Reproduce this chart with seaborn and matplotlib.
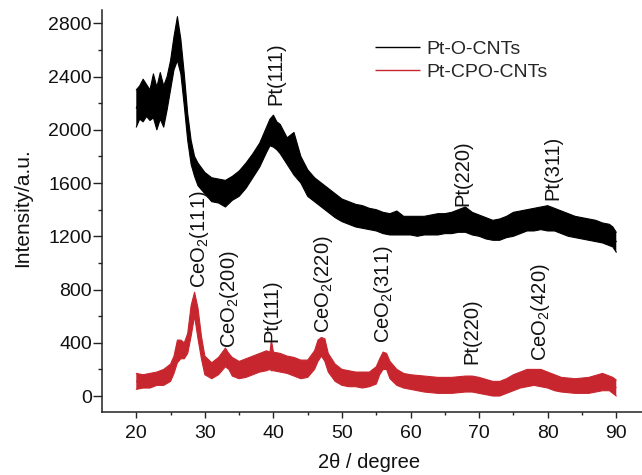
import numpy as np
import pandas as pd
import matplotlib
matplotlib.use("Agg")
import matplotlib.pyplot as plt
import seaborn as sns

# --- Pt-O-CNTs: 2theta positions with lower / upper edge of the noisy trace
pto_x = [20, 20.5, 21, 21.5, 22, 22.5, 23, 23.5, 24, 24.5, 25, 25.5, 26, 26.5, 27, 27.5,
         28, 28.5, 29, 30, 31, 32, 33, 34, 35, 36, 37, 38, 39, 39.5, 40, 40.5, 41, 42,
         43, 44, 45, 46, 47, 48, 49, 50, 51, 52, 53, 54, 55, 56, 57, 58, 59, 60, 61, 62,
         63, 64, 65, 66, 67, 68, 69, 70, 71, 72, 73, 74, 75, 76, 77, 78, 79, 80, 81, 82,
         83, 84, 85, 86, 87, 88, 89, 89.5, 90]
pto_low = [2020, 2080, 2060, 2100, 2070, 2090, 2000, 2080, 2020, 2150, 2300, 2450, 2520, 2420, 2180, 1920,
           1740, 1650, 1580, 1520, 1460, 1450, 1420, 1470, 1500, 1560, 1640, 1720, 1830, 1880, 1870, 1850, 1820, 1740,
           1660, 1600, 1500, 1460, 1420, 1380, 1340, 1310, 1290, 1270, 1260, 1250, 1240, 1220, 1210, 1210, 1210, 1210, 1200, 1210,
           1210, 1210, 1220, 1220, 1230, 1230, 1210, 1200, 1180, 1170, 1170, 1190, 1200, 1220, 1240, 1240, 1250, 1240, 1240, 1220,
           1200, 1190, 1180, 1170, 1160, 1150, 1130, 1120, 1080]
pto_high = [2300, 2330, 2380, 2340, 2300, 2420, 2320, 2430, 2330, 2400, 2520, 2700, 2850, 2680, 2420, 2120,
            1920, 1800, 1750, 1680, 1640, 1630, 1620, 1650, 1690, 1750, 1820, 1900, 2020, 2080, 2110, 2060, 2040, 1940,
            1980, 1800, 1700, 1640, 1600, 1560, 1520, 1480, 1460, 1440, 1430, 1410, 1400, 1380, 1370, 1390, 1350, 1350, 1350, 1350,
            1360, 1370, 1370, 1380, 1400, 1420, 1380, 1360, 1340, 1320, 1330, 1350, 1380, 1390, 1400, 1410, 1420, 1430, 1410, 1390,
            1370, 1350, 1340, 1330, 1320, 1300, 1290, 1270, 1230]

# --- Pt-CPO-CNTs
cpo_x = [20, 21, 22, 23, 24, 25, 25.5, 26, 26.5, 27, 27.5, 28, 28.5, 29, 29.5, 30, 31, 32,
         33, 33.5, 34, 35, 36, 37, 38, 39, 39.5, 39.7, 40, 41, 42, 43, 44, 45, 46, 46.5,
         47, 47.5, 48, 49, 50, 51, 52, 53, 54, 55, 55.5, 56, 56.5, 57, 58, 59, 60, 62,
         64, 66, 68, 69, 70, 72, 73, 74, 75, 76, 77, 78, 79, 80, 81, 82, 84, 86, 88,
         89, 89.5, 90]
cpo_low = [50, 60, 60, 80, 80, 110, 170, 250, 280, 280, 320, 450, 600, 430, 280, 160, 130, 160,
           220, 200, 150, 130, 140, 160, 180, 190, 200, 190, 190, 180, 170, 150, 130, 140, 200, 260,
           300, 260, 180, 110, 80, 70, 70, 60, 70, 90, 160, 200, 200, 130, 80, 60, 50, 30,
           20, 20, 30, 30, 20, 0, 0, 20, 40, 60, 70, 80, 70, 60, 40, 30, 20, 20, 40,
           40, 20, 0]
cpo_high = [170, 160, 170, 180, 200, 240, 300, 420, 420, 400, 470, 680, 780, 660, 450, 300, 250, 290,
            360, 320, 290, 260, 280, 300, 320, 340, 330, 420, 330, 320, 300, 290, 270, 270, 340, 420,
            440, 430, 320, 240, 200, 190, 180, 180, 180, 220, 280, 330, 320, 260, 200, 170, 160, 150,
            140, 140, 150, 150, 140, 110, 110, 130, 160, 180, 200, 200, 200, 180, 160, 140, 130, 140, 170,
            150, 140, 120]

series_names = ["Pt-O-CNTs", "Pt-CPO-CNTs"]
series_colors = ["#000000", "#c8262f"]

# Peak labels: (text, 2theta, intensity at label base)
pto_peaks = [("Pt(111)", 40.3, 2185), ("Pt(220)", 67.7, 1430), ("Pt(311)", 80.8, 1470)]
cpo_peaks = [("CeO$_2$(111)", 29.2, 815), ("CeO$_2$(200)", 33.6, 360), ("Pt(111)", 39.8, 405),
             ("CeO$_2$(220)", 47.3, 470), ("CeO$_2$(311)", 56.0, 400), ("Pt(220)", 69.0, 240),
             ("CeO$_2$(420)", 78.9, 262)]

envelopes = {
    series_names[0]: (pto_x, pto_low, pto_high),
    series_names[1]: (cpo_x, cpo_low, cpo_high),
}


def long_form(name, xs, lows, highs):
    return pd.DataFrame({
        "two_theta": list(xs) + list(xs),
        "intensity": list(lows) + list(highs),
        "sample": name,
    })


df = pd.concat([long_form(n, *envelopes[n]) for n in series_names], ignore_index=True)
palette = dict(zip(series_names, series_colors))

sns.set_theme(style="ticks")
plt.rcParams["font.family"] = ["Liberation Sans", "DejaVu Sans"]
plt.rcParams["mathtext.default"] = "regular"
plt.rcParams["path.simplify"] = False

fig = plt.figure(figsize=(6.42, 4.75), dpi=100)
ax = fig.add_axes([102 / 642, 63 / 475, 540 / 642, 402 / 475])

# noisy trace drawn as the filled spread between its lower and upper edge
for name in series_names:
    xs, lows, highs = envelopes[name]
    ax.fill_between(np.asarray(xs, float), np.asarray(lows, float), np.asarray(highs, float),
                    facecolor=palette[name], edgecolor="none", linewidth=0,
                    antialiased=True, zorder=2)
    ax.plot(xs, lows, color=palette[name], linewidth=0.8, zorder=2)
    ax.plot(xs, highs, color=palette[name], linewidth=0.8, zorder=2)

# mean trace of each sample on top of the spread
sns.lineplot(data=df, x="two_theta", y="intensity", hue="sample", palette=palette,
             estimator="mean", errorbar=None, linewidth=1.2, ax=ax, zorder=3,
             solid_capstyle="butt")

for text, x, y in pto_peaks + cpo_peaks:
    ax.text(x, y, text, rotation=90, ha="center", va="bottom", fontsize=14.5, color="#111111")

ax.set_xlim(15, 93.75)
ax.set_ylim(-120, 2900)
ax.set_xticks([20, 30, 40, 50, 60, 70, 80, 90])
ax.set_xticks(np.arange(25, 95, 10), minor=True)
ax.set_yticks([0, 400, 800, 1200, 1600, 2000, 2400, 2800])
ax.set_yticks(np.arange(200, 2900, 400), minor=True)
ax.tick_params(axis="both", which="both", direction="out", width=1.0, color="#222222")
ax.tick_params(axis="both", which="major", labelsize=14, labelcolor="#111111")
ax.tick_params(axis="x", which="major", length=4.2, pad=5)
ax.tick_params(axis="x", which="minor", length=2.3)
ax.tick_params(axis="y", which="major", length=6.3, pad=1)
ax.tick_params(axis="y", which="minor", length=2.8)

sns.despine(ax=ax)
for side in ("left", "bottom"):
    ax.spines[side].set_linewidth(1.1)
    ax.spines[side].set_color("#222222")

ax.set_xlabel("2θ / degree", fontsize=14.5, color="#111111")
ax.set_ylabel("Intensity/a.u.", fontsize=15, color="#111111")
ax.xaxis.set_label_coords(0.495, -0.102)
ax.yaxis.set_label_coords(-0.13, 0.509)

handles, labels = ax.get_legend_handles_labels()
leg = ax.legend(handles, labels, frameon=False, fontsize=14, loc="upper left",
                bbox_to_anchor=(375 / 642, 1 - 40 / 475), bbox_transform=fig.transFigure,
                borderpad=0, borderaxespad=0,
                handlelength=2.3, handletextpad=0.36, labelspacing=0.28)
for line in leg.get_lines():
    line.set_linewidth(1.0)

fig.savefig("out.png", dpi=100)
